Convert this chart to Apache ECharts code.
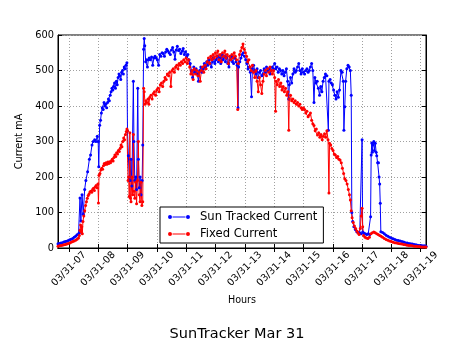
<!DOCTYPE html>
<html>
<head>
<meta charset="utf-8">
<script src="https://cdn.jsdelivr.net/npm/echarts@6/dist/echarts.min.js"></script>
<style>html,body{margin:0;padding:0;background:#fff}#c{width:474px;height:355px}</style>
</head>
<body>
<div id="c"></div>
<script>
const hourTicks = [7, 8, 9, 10, 11, 12, 13, 14, 15, 16, 17, 18, 19];
const hourLabelPrefix = '03/31-';
const yTicks = [0, 100, 200, 300, 400, 500, 600];
const seriesNames = ['Sun Tracked Current', 'Fixed Current'];

const sunTrackedCurrent = [
[6.63,12],[6.68,13],[6.73,14],[6.78,15],[6.83,17],[6.88,18],[6.93,19],[6.98,21],[7.03,23],[7.08,25],[7.13,27],[7.18,30],[7.23,33],[7.28,37],[7.33,40],[7.36,42],
[7.38,141],[7.41,76],[7.45,150],[7.49,95],[7.54,165],[7.58,190],[7.64,215],[7.70,250],[7.74,262],[7.79,290],[7.83,300],[7.88,305],[7.92,300],[7.97,315],[8.00,300],[8.02,229],[8.05,346],[8.08,360],
[8.11,380],[8.14,395],[8.17,390],[8.20,410],[8.23,400],[8.26,405],[8.29,395],[8.32,410],[8.35,420],[8.38,415],[8.41,430],[8.44,440],[8.47,450],[8.50,445],[8.53,455],[8.56,465],[8.59,450],[8.62,470],[8.65,460],[8.68,480],[8.71,490],[8.74,485],[8.77,475],[8.80,495],[8.83,500],[8.86,490],[8.89,510],[8.92,505],[8.95,515],[8.98,522],
[9.00,330],[9.03,260],[9.06,200],[9.09,190],[9.12,250],[9.15,175],[9.20,470],[9.22,300],[9.25,190],[9.28,200],[9.31,165],[9.35,450],[9.37,250],[9.40,170],[9.43,200],[9.46,150],[9.50,190],[9.52,290],[9.55,560],[9.57,590],[9.59,570],[9.62,525],[9.65,530],[9.68,510],[9.71,530],
[9.74,535],[9.78,530],[9.82,538],[9.86,515],[9.90,535],[9.94,540],[9.98,535],[10.02,530],[10.06,515],[10.10,545],[10.14,540],[10.18,550],[10.22,548],[10.26,540],[10.30,552],[10.34,560],[10.38,555],[10.42,550],[10.46,545],[10.50,558],[10.54,565],[10.58,552],[10.62,532],[10.66,558],[10.70,568],[10.74,556],[10.78,560],[10.82,548],[10.86,554],[10.90,562],[10.94,545],[10.98,553],
[11.02,540],[11.06,545],[11.10,530],[11.14,520],[11.18,500],[11.22,480],[11.26,510],[11.30,495],[11.34,505],[11.38,490],[11.42,470],[11.46,500],[11.50,510],[11.54,495],[11.58,505],[11.62,520],[11.66,510],[11.70,525],[11.74,515],[11.78,530],[11.82,520],[11.86,510],[11.90,525],[11.94,535],[11.98,520],
[12.02,530],[12.06,540],[12.10,525],[12.14,535],[12.18,520],[12.22,545],[12.26,530],[12.30,540],[12.34,525],[12.38,535],[12.42,520],[12.46,510],[12.50,530],[12.54,540],[12.58,525],[12.62,520],[12.66,535],[12.70,525],[12.74,515],[12.77,395],[12.79,510],[12.83,525],[12.87,535],[12.91,545],[12.95,550],[12.99,540],
[13.03,530],[13.07,520],[13.11,505],[13.15,510],[13.19,495],[13.23,426],[13.26,505],[13.30,515],[13.34,500],[13.38,490],[13.42,505],[13.46,480],[13.50,495],[13.54,500],[13.58,485],[13.62,490],[13.66,505],[13.70,495],[13.74,510],[13.78,500],[13.82,505],[13.86,490],[13.90,500],[13.94,510],[13.98,505],
[14.02,520],[14.06,505],[14.10,510],[14.14,495],[14.18,505],[14.22,500],[14.26,490],[14.30,500],[14.34,485],[14.38,495],[14.42,505],[14.46,470],[14.50,420],[14.52,460],[14.56,480],[14.60,465],[14.64,490],[14.68,505],[14.72,495],[14.76,500],[14.80,510],[14.84,520],[14.88,500],[14.92,490],[14.96,505],
[15.00,495],[15.04,490],[15.08,500],[15.12,505],[15.16,495],[15.20,500],[15.24,510],[15.28,520],[15.32,500],[15.36,410],[15.39,480],[15.43,465],[15.47,470],[15.51,450],[15.55,430],[15.59,455],[15.63,440],[15.67,470],[15.71,480],[15.75,490],[15.80,485],[15.85,332],[15.87,470],[15.91,475],[15.95,465],[15.99,460],
[16.03,445],[16.07,430],[16.11,420],[16.15,440],[16.19,425],[16.23,445],[16.28,500],[16.32,495],[16.36,470],[16.38,332],[16.41,398],[16.44,470],[16.48,505],[16.52,515],[16.56,510],[16.60,500],[16.63,430],[16.65,100],[16.68,75],[16.72,60],[16.77,52],[16.82,46],[16.87,43],[16.92,42],[16.97,40],
[17.00,305],[17.02,45],[17.06,42],[17.11,40],[17.16,38],[17.21,40],[17.26,38],[17.29,88],[17.31,262],[17.33,296],[17.35,270],[17.37,290],[17.40,300],[17.42,275],[17.45,295],[17.48,270],[17.50,260],[17.53,240],[17.56,240],[17.58,200],[17.60,180],[17.62,126],[17.64,46],
[17.70,44],[17.76,40],[17.82,36],[17.88,33],[17.94,30],[18.00,28],[18.06,26],[18.12,24],[18.18,22],[18.24,21],[18.30,20],[18.36,18],[18.42,17],[18.48,15],[18.54,14],[18.60,13],[18.66,12],[18.72,11],[18.78,10],[18.84,9],[18.90,8],[18.96,7],[19.02,7],[19.08,6],[19.14,6],[19.18,5]
];

const fixedCurrent = [
[6.63,5],[6.68,6],[6.73,7],[6.78,8],[6.83,9],[6.88,10],[6.93,11],[6.98,13],[7.03,14],[7.08,16],[7.13,18],[7.18,20],[7.23,22],[7.28,25],[7.33,28],[7.36,35],
[7.38,50],[7.40,65],[7.42,45],[7.44,60],[7.46,40],[7.48,75],[7.51,90],[7.54,105],[7.57,120],[7.60,130],[7.63,140],[7.66,148],[7.69,152],[7.72,158],[7.75,160],[7.78,157],[7.81,165],[7.84,168],[7.87,162],[7.90,172],[7.93,176],[7.96,170],[7.99,180],[8.01,127],[8.03,205],
[8.06,210],[8.09,220],[8.12,225],[8.15,222],[8.18,232],[8.21,238],[8.24,235],[8.27,240],[8.30,236],[8.33,242],[8.36,238],[8.39,243],[8.42,240],[8.45,245],[8.48,250],[8.51,245],[8.54,255],[8.57,262],[8.60,258],[8.63,268],[8.66,265],[8.69,275],[8.72,272],[8.75,280],[8.78,290],[8.81,285],[8.84,300],[8.87,310],[8.90,305],[8.93,320],[8.96,328],[8.98,335],
[9.00,330],[9.02,190],[9.04,200],[9.06,145],[9.08,325],[9.10,140],[9.12,130],[9.15,200],[9.18,150],[9.20,320],[9.22,160],[9.25,140],[9.28,185],[9.31,125],[9.34,190],[9.37,300],[9.40,150],[9.43,130],[9.46,185],[9.49,120],[9.52,130],
[9.55,450],[9.57,440],[9.60,405],[9.63,415],[9.66,410],[9.70,420],[9.73,405],[9.76,425],[9.80,430],[9.84,420],[9.88,435],[9.92,440],[9.96,430],[10.00,445],[10.04,450],[10.08,440],[10.12,460],[10.16,465],[10.20,455],[10.24,470],[10.28,480],[10.32,475],[10.36,490],[10.40,485],[10.44,495],[10.48,455],[10.52,500],[10.56,505],[10.60,495],[10.64,510],[10.68,515],[10.72,505],[10.76,520],[10.80,515],[10.84,525],[10.88,520],[10.92,530],[10.96,525],
[11.00,535],[11.04,520],[11.08,530],[11.12,510],[11.16,490],[11.20,500],[11.24,475],[11.28,505],[11.32,490],[11.36,500],[11.40,485],[11.44,495],[11.48,470],[11.52,500],[11.56,510],[11.60,495],[11.64,515],[11.68,505],[11.72,525],[11.76,535],[11.80,520],[11.84,540],[11.88,530],[11.92,545],[11.96,535],
[12.00,550],[12.04,540],[12.08,555],[12.12,530],[12.16,545],[12.20,525],[12.24,550],[12.28,540],[12.32,555],[12.36,535],[12.40,545],[12.44,520],[12.48,540],[12.52,530],[12.56,545],[12.60,535],[12.64,550],[12.68,540],[12.72,530],[12.76,390],[12.78,520],[12.82,545],[12.86,555],[12.90,565],[12.94,575],[12.98,560],
[13.02,550],[13.06,540],[13.10,525],[13.14,530],[13.18,510],[13.22,500],[13.26,515],[13.30,495],[13.34,480],[13.38,500],[13.42,470],[13.46,440],[13.50,480],[13.54,460],[13.58,435],[13.62,470],[13.66,490],[13.70,500],[13.74,485],[13.78,505],[13.82,495],[13.86,510],[13.90,500],[13.94,490],[13.98,500],
[14.02,480],[14.05,385],[14.07,470],[14.11,460],[14.15,475],[14.19,455],[14.23,465],[14.27,445],[14.31,455],[14.35,440],[14.39,450],[14.43,430],[14.47,440],[14.50,332],[14.52,420],[14.56,430],[14.60,415],[14.64,420],[14.68,410],[14.72,415],[14.76,405],[14.80,410],[14.84,400],[14.88,405],[14.92,395],[14.96,390],
[15.00,395],[15.04,390],[15.08,380],[15.12,385],[15.16,370],[15.20,375],[15.24,380],[15.28,360],[15.32,350],[15.36,345],[15.40,330],[15.44,335],[15.48,318],[15.52,325],[15.56,312],[15.60,320],[15.64,305],[15.68,315],[15.72,322],[15.76,312],[15.80,330],[15.84,305],[15.87,155],[15.89,295],[15.93,290],[15.97,280],
[16.01,275],[16.05,265],[16.09,262],[16.13,255],[16.17,258],[16.21,250],[16.25,248],[16.29,240],[16.33,225],[16.37,210],[16.41,195],[16.45,190],[16.49,180],[16.53,165],[16.57,150],[16.60,135],[16.63,105],[16.66,85],[16.70,72],[16.74,62],[16.78,55],[16.82,48],[16.86,42],[16.90,38],[16.94,55],[16.97,90],
[17.00,112],[17.02,60],[17.05,35],[17.10,30],[17.15,28],[17.20,27],[17.25,30],[17.30,40],[17.35,43],[17.40,45],[17.45,43],[17.50,40],[17.55,38],[17.60,35],[17.65,33],[17.70,30],[17.76,27],[17.82,24],[17.88,22],[17.94,20],
[18.00,18],[18.06,16],[18.12,15],[18.18,14],[18.24,13],[18.30,12],[18.36,11],[18.42,10],[18.48,9],[18.54,8],[18.60,7],[18.66,7],[18.72,6],[18.78,5],[18.84,5],[18.90,4],[18.96,4],[19.02,3],[19.08,3],[19.14,3],[19.18,3]
];

const X_MIN = 6.63, X_MAX = 19.18;
const FONT = 'DejaVu Sans';
const fmtHour = v => hourLabelPrefix + String(v).padStart(2, '0');
const legendIcon = 'path://M0,2A2,2 0 1,1 4,2A2,2 0 1,1 0,2Z M4.5,1.6H17.5V2.4H4.5Z M18,2A2,2 0 1,1 22,2A2,2 0 1,1 18,2Z M27,2L27.01,2L27,2.01Z';

const chart = echarts.init(document.getElementById('c'), null, {renderer: 'canvas'});
chart.setOption({
  animation: false,
  backgroundColor: '#fff',
  title: {
    text: 'SunTracker Mar 31', left: 'center', top: 322,
    textStyle: {fontFamily: FONT, fontSize: 14.5, fontWeight: 'normal', color: '#000'}
  },
  grid: {left: 58, top: 35, width: 368, height: 213, show: true, borderColor: '#000', borderWidth: 1, backgroundColor: 'transparent'},
  legend: {
    orient: 'vertical', left: 160, top: 207,
    padding: [3, 6, 2, 8], itemGap: 3,
    backgroundColor: '#fff', borderColor: '#000', borderWidth: 1, borderRadius: 0,
    itemWidth: 27, itemHeight: 4,
    textStyle: {fontFamily: FONT, fontSize: 11.6, color: '#000', lineHeight: 14},
    data: seriesNames.map(n => ({name: n, icon: legendIcon}))
  },
  xAxis: [{
    type: 'value', min: X_MIN, max: X_MAX,
    name: 'Hours', nameLocation: 'middle', nameGap: 40,
    nameTextStyle: {fontFamily: FONT, fontSize: 9.6, color: '#000'},
    axisLine: {show: true, lineStyle: {color: '#000', width: 1}},
    axisTick: {show: true, inside: true, length: 4, customValues: hourTicks, lineStyle: {color: '#000'}},
    axisLabel: {
      customValues: hourTicks, rotate: 45, align: 'center', verticalAlign: 'middle', margin: 21,
      fontFamily: FONT, fontSize: 9.8, color: '#000', formatter: fmtHour, hideOverlap: false
    },
    splitLine: {show: true, lineStyle: {color: '#a0a0a0', type: [1, 2], width: 1}}
  }, {
    type: 'value', min: X_MIN, max: X_MAX, position: 'top',
    axisLine: {show: true, lineStyle: {color: '#000'}},
    axisTick: {show: true, inside: true, length: 4, customValues: hourTicks, lineStyle: {color: '#000'}},
    axisLabel: {show: false}, splitLine: {show: false}
  }],
  yAxis: [{
    type: 'value', min: 0, max: 600, interval: 100,
    name: 'Current mA', nameLocation: 'middle', nameGap: 23, nameRotate: 90,
    nameTextStyle: {fontFamily: FONT, fontSize: 9.7, color: '#000'},
    axisLine: {show: true, lineStyle: {color: '#000'}},
    axisTick: {show: true, inside: true, length: 4, lineStyle: {color: '#000'}},
    axisLabel: {fontFamily: FONT, fontSize: 9.8, color: '#000', margin: 4},
    splitLine: {show: true, lineStyle: {color: '#a0a0a0', type: [1, 2], width: 1}}
  }, {
    type: 'value', min: 0, max: 600, interval: 100, position: 'right',
    axisLine: {show: true, lineStyle: {color: '#000'}},
    axisTick: {show: true, inside: true, length: 4, lineStyle: {color: '#000'}},
    axisLabel: {show: false}, splitLine: {show: false}
  }],
  series: [
    {
      name: seriesNames[0], type: 'line', data: sunTrackedCurrent,
      symbol: 'circle', symbolSize: 3, showAllSymbol: true,
      lineStyle: {color: '#0000ff', width: 1}, itemStyle: {color: '#0000ff'}
    },
    {
      name: seriesNames[1], type: 'line', data: fixedCurrent,
      symbol: 'circle', symbolSize: 3, showAllSymbol: true,
      lineStyle: {color: '#ff0000', width: 1}, itemStyle: {color: '#ff0000'}
    }
  ]
});
</script>
</body>
</html>
